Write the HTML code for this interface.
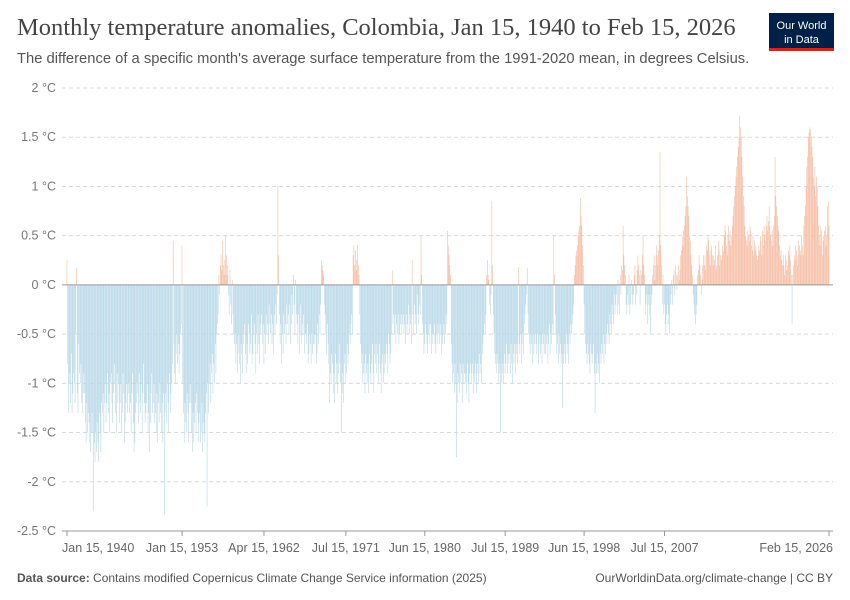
<!DOCTYPE html>
<html><head><meta charset="utf-8"><style>
body{margin:0;background:#fff;}
svg{display:block;font-family:"Liberation Sans",sans-serif;}
</style></head><body>
<svg id="chart" width="850" height="600" viewBox="0 0 850 600">
<text x="17" y="35" font-family="Liberation Serif,serif" font-size="24.5" fill="#444">Monthly temperature anomalies, Colombia, Jan 15, 1940 to Feb 15, 2026</text>
<text x="17" y="63" font-size="14.75" fill="#555">The difference of a specific month's average surface temperature from the 1991-2020 mean, in degrees Celsius.</text>
<g>
<rect x="769" y="13" width="65" height="37" fill="#002147"/>
<rect x="769" y="48" width="65" height="3" fill="#ce261e"/>
<text x="801.5" y="29" font-size="11" fill="#fff" text-anchor="middle">Our World</text>
<text x="801.5" y="43" font-size="11" fill="#fff" text-anchor="middle">in Data</text>
</g>
<g id="grid"></g>
<g id="bars"></g>
<g id="xaxis"></g>
<text x="17" y="582" font-size="12" fill="#555"><tspan font-weight="bold">Data source:</tspan> Contains modified Copernicus Climate Change Service information (2025)</text>
<text x="833" y="582" font-size="12" fill="#555" text-anchor="end">OurWorldinData.org/climate-change | CC BY</text>
</svg>
<script>
const startYear = 1940;
const yTicks = [2, 1.5, 1, 0.5, 0, -0.5, -1, -1.5, -2, -2.5];
const yTickLabels = ["2 °C","1.5 °C","1 °C","0.5 °C","0 °C","-0.5 °C","-1 °C","-1.5 °C","-2 °C","-2.5 °C"];
const xTickLabels = ["Jan 15, 1940","Jan 15, 1953","Apr 15, 1962","Jul 15, 1971","Jun 15, 1980","Jul 15, 1989","Jun 15, 1998","Jul 15, 2007","Feb 15, 2026"];
const xTickMonths = [0, 156, 267, 378, 485, 594, 701, 810, 1033];
const anomalies = [
.25,-.8,-1.3,-1.0,-.9,-1.2,-.7,-1.3,-1.1,-.9,-1.0,-1.2,
-.5,.17,-1.1,-1.3,-.6,-.9,-1.0,-.8,-1.2,-1.3,-1.1,-.9,
-1.1,-1.4,-1.6,-1.2,-1.5,-1.3,-1.4,-1.6,-1.7,-1.5,-1.3,-1.5,
-2.3,-1.6,-1.8,-1.5,-1.7,-1.4,-1.6,-1.8,-1.3,-1.5,-1.7,-1.2,
-1.3,-1.1,-1.5,-1.2,-1.0,-1.4,-1.2,-0.9,-1.3,-1.1,-1.5,-1.0,
-0.9,-1.2,-1.4,-1.1,-0.8,-1.0,-1.3,-1.5,-0.9,-1.2,-1.0,-1.4,
-1.2,-1.0,-1.5,-1.3,-0.9,-1.1,-1.6,-1.4,-1.2,-1.0,-1.3,-1.1,
-1.0,-1.3,-1.2,-1.5,-1.1,-0.9,-1.4,-1.7,-1.6,-1.3,-1.2,-1.0,
-1.1,-1.4,-0.9,-1.2,-1.3,-1.0,-1.5,-1.1,-0.8,-1.2,-1.4,-1.3,
-1.2,-1.0,-1.5,-1.3,-1.7,-1.4,-1.1,-0.9,-1.3,-1.2,-1.0,-1.4,
-1.3,-1.5,-1.1,-1.6,-1.2,-1.4,-1.0,-1.3,-1.5,-1.2,-1.6,-1.1,
-2.33,-1.3,-1.1,-1.4,-1.0,-1.2,-1.5,-0.9,-1.3,-1.1,-1.0,-0.8,
.45,-0.6,-0.9,-1.0,-0.7,-0.5,-0.8,-0.6,-0.9,-0.7,-0.5,-0.4,
.4,-1.0,-1.3,-1.6,-1.2,-1.4,-1.5,-1.1,-1.3,-1.6,-1.2,-1.0,
-1.2,-1.5,-1.7,-1.3,-1.6,-1.4,-1.2,-1.5,-1.1,-1.3,-1.6,-1.4,
-1.3,-1.6,-1.5,-1.2,-1.7,-1.4,-1.5,-1.6,-1.3,-1.1,-2.25,-1.0,
-1.3,-1.0,-0.8,-1.2,-0.9,-0.7,-1.1,-0.8,-1.0,-0.6,-0.9,-0.5,
-0.4,-0.3,.1,-0.1,.2,.3,.15,.45,.2,.1,.25,.5,
.3,.1,.2,-0.1,-0.3,.15,-0.2,-0.4,.05,-0.3,-0.5,-0.6,
-0.5,-0.8,-0.6,-0.9,-0.7,-0.5,-0.8,-1.0,-0.6,-0.7,-0.9,-0.6,
-0.5,-0.4,-0.7,-0.9,-0.6,-0.8,-0.4,-0.5,-0.7,-0.6,-0.3,-0.8,
-0.7,-0.5,-0.4,-0.6,-0.9,-0.5,-0.7,-0.3,-0.6,-0.8,-0.5,-0.4,
-0.3,-0.6,-0.4,-0.8,-0.5,-0.7,-0.3,-0.5,-0.4,-0.6,-0.2,-0.4,
-0.5,-0.3,-0.6,-0.4,-0.7,-0.3,-0.5,-0.2,-0.4,-0.1,1.0,.3,
-0.3,-0.6,-0.4,-0.8,-0.5,-0.7,-0.3,-0.5,-0.4,-0.6,-0.2,-0.4,
-0.3,-0.5,-0.2,-0.6,-0.4,-0.1,-0.3,.1,-0.2,-0.5,.05,-0.3,
-0.4,-0.6,-0.3,-0.7,-0.5,-0.2,-0.6,-0.4,-0.5,-0.3,-0.7,-0.5,
-0.5,-0.6,-0.4,-0.8,-0.7,-0.5,-0.6,-0.8,-0.5,-0.7,-0.6,-0.5,
-0.6,-0.5,-0.8,-0.7,-0.4,-0.6,-0.3,-0.5,-0.2,.25,.2,.15,
.1,-0.2,-0.3,-0.5,-0.7,-0.4,-0.6,-0.8,-1.2,-0.9,-1.0,-0.7,
-0.8,-1.1,-0.9,-1.2,-0.7,-1.0,-0.8,-1.1,-0.9,-0.6,-0.8,-1.0,
-1.5,-1.1,-0.9,-1.2,-0.8,-0.7,-1.0,-0.9,-0.6,-0.8,-0.7,-0.5,
-0.6,-0.4,-0.3,-0.5,.3,.4,.2,.35,.15,.25,.4,.2,
.1,-0.3,-0.6,-0.8,-0.7,-1.0,-0.9,-0.8,-1.1,-0.7,-0.9,-1.0,
-0.8,-1.1,-0.7,-0.9,-1.0,-0.8,-0.6,-0.9,-1.1,-0.7,-0.8,-0.6,
-0.9,-0.7,-1.0,-0.8,-0.6,-0.9,-1.1,-0.8,-0.7,-1.0,-0.9,-0.7,
-0.8,-0.6,-0.7,-0.9,-0.5,-0.6,-0.8,-0.7,-0.5,.15,-0.4,-0.3,
-0.5,-0.3,-0.6,-0.4,-0.5,-0.3,-0.6,-0.5,-0.4,-0.3,-0.5,-0.4,
-0.3,-0.5,-0.4,-0.6,-0.3,-0.5,-0.4,-0.2,-0.5,-0.3,-0.4,-0.6,
.25,-0.3,-0.5,-0.2,-0.4,-0.3,-0.5,-0.1,-0.3,-0.4,-0.2,-0.3,
.5,.1,-0.4,-0.5,-0.7,-0.6,-0.4,-0.5,-0.6,-0.7,-0.5,-0.4,
-0.6,-0.4,-0.7,-0.5,-0.6,-0.5,-0.4,-0.6,-0.7,-0.5,-0.6,-0.4,
-0.5,-0.6,-0.4,-0.5,-0.7,-0.6,-0.5,-0.4,-0.6,-0.5,-0.3,-0.4,
.55,.4,.3,.2,.1,-0.6,-0.8,-1.0,-0.9,-1.1,-0.8,-1.0,
-1.75,-1.2,-0.9,-1.0,-1.1,-0.8,-1.0,-0.9,-1.2,-0.8,-1.0,-0.9,
-1.0,-0.9,-1.1,-0.8,-1.0,-1.2,-0.9,-0.8,-1.0,-0.9,-0.8,-1.1,
-0.9,-1.0,-0.8,-1.1,-0.9,-0.8,-1.0,-0.7,-0.9,-0.8,-1.0,-0.7,
-0.6,-0.5,-0.4,-0.5,-0.3,.1,.25,.1,.05,-0.2,-0.3,-0.1,
.85,.2,-0.3,-0.5,-0.7,-0.8,-0.9,-0.7,-0.8,-1.0,-0.9,-0.8,
-1.5,-1.0,-0.9,-0.8,-1.0,-0.7,-0.9,-0.8,-0.6,-0.9,-0.7,-0.8,
-0.7,-0.9,-0.6,-0.8,-1.0,-0.7,-0.8,-0.6,-0.9,-0.7,-0.6,-0.8,
.18,-0.6,-0.7,-0.5,-0.8,-0.6,-0.5,-0.7,-0.4,-0.3,-0.2,-0.1,
.17,-0.3,-0.5,-0.6,-0.7,-0.5,-0.6,-0.8,-0.5,-0.7,-0.6,-0.5,
-0.6,-0.7,-0.5,-0.8,-0.6,-0.5,-0.7,-0.6,-0.8,-0.5,-0.6,-0.7,
-0.5,-0.7,-0.6,-0.5,-0.8,-0.6,-0.4,-0.7,-0.5,-0.6,-0.4,-0.5,
.5,.1,-0.3,-0.5,-0.7,-0.6,-0.8,-0.5,-0.7,-0.6,-0.8,-0.7,
-1.25,-0.8,-0.7,-0.6,-0.8,-0.5,-0.7,-0.6,-0.8,-0.5,-0.6,-0.4,
-0.5,-0.4,-0.3,-0.2,.1,.2,.3,.35,.4,.5,.55,.6,
.88,.7,.6,.4,.2,-0.2,-0.5,-0.6,-0.7,-0.8,-0.6,-0.7,
-0.8,-0.9,-0.6,-0.7,-0.8,-0.7,-0.6,-0.9,-1.3,-0.8,-0.9,-0.7,
-0.9,-0.8,-1.0,-0.7,-0.8,-0.6,-0.7,-0.5,-0.8,-0.6,-0.7,-0.5,
-0.6,-0.4,-0.5,-0.6,-0.3,-0.4,-0.5,-0.2,-0.3,-0.4,-0.1,-0.3,
-0.2,-0.1,-0.3,.05,-0.2,-0.3,.1,-0.1,.2,.15,.6,.3,
.2,.1,-0.2,-0.3,-0.1,-0.2,.1,-0.3,-0.2,.05,-0.1,-0.2,
-0.1,.1,.2,-0.2,-0.1,.15,.3,.2,.1,-0.2,.15,.1,
.3,.5,.2,.1,-0.3,-0.2,-0.1,-0.4,-0.2,-0.1,-0.3,-0.5,
-0.2,-0.1,.1,.2,.3,.05,.2,.4,.3,.2,.35,.5,
1.35,.4,.2,-0.2,.1,-0.3,-0.2,-0.4,-0.5,-0.3,-0.2,-0.4,
-0.3,-0.5,-0.2,-0.1,.05,-0.2,.1,.15,-0.1,.2,.1,-0.05,
.1,.2,.05,.15,.3,.35,.5,.4,.55,.6,.7,.8,
1.1,.9,.8,.7,.5,.45,.3,.2,.1,-0.1,-0.2,-0.3,
-0.4,-0.3,-0.2,.1,.15,.3,.2,.1,-0.1,.05,.2,.3,
.2,.3,.15,.4,.35,.5,.45,.3,.2,.35,.4,.3,
.2,.3,.25,.4,.15,.2,.3,.45,.35,.2,.3,.25,
.3,.4,.35,.5,.6,.55,.4,.3,.5,.6,.45,.55,
.4,.5,.6,.7,.8,.9,1.0,1.1,1.2,1.3,1.4,1.5,
1.72,1.6,1.5,1.3,1.1,.9,.8,.6,.5,.45,.4,.55,
.5,.45,.6,.55,.4,.35,.5,.3,.45,.35,.4,.3,
.25,.3,.4,.35,.5,.45,.3,.55,.4,.6,.5,.45,
.6,.7,.55,.65,.8,.6,.5,.45,.55,.4,.6,.7,
1.3,.9,.8,.7,.6,.55,.4,.3,.35,.25,.2,.3,
.2,.1,.3,.25,.15,.2,.35,.3,.4,.25,.1,-0.4,
.1,.2,.3,.25,.4,.35,.2,.3,.45,.4,.35,.3,
.5,.4,.3,.6,.7,.8,1.0,1.2,1.3,1.5,1.55,1.6,
1.58,1.5,1.4,1.3,1.1,1.0,1.2,.9,1.1,1.0,.8,.6,
.5,.4,.6,.55,.3,.45,.5,.55,.6,.4,.5,.8,
.85,.6
];
const NS = "http://www.w3.org/2000/svg";
const x0 = 67, x1 = 829, yTop = 88, yBot = 531, vMax = 2, vMin = -2.5;
const nMonths = 1034;
function xScale(i){ return x0 + (x1 - x0) * i / (nMonths - 1); }
function yScale(v){ return yTop + (vMax - v) / (vMax - vMin) * (yBot - yTop); }
function mk(tag, attrs){ const e = document.createElementNS(NS, tag); for (const k in attrs) e.setAttribute(k, attrs[k]); return e; }
const grid = document.getElementById('grid');
yTicks.forEach((v, i) => {
  const y = yScale(v);
  if (v !== 0 && v !== vMin) {
    const l = mk('line', {x1: 62, x2: 833, y1: y, y2: y, stroke: '#dadada', 'stroke-dasharray': '4,3'});
    
    
    grid.appendChild(l);
  }
  const t = mk('text', {x: 56, y: y + 4, 'font-size': 12.5, fill: '#777', 'text-anchor': 'end'});
  t.textContent = yTickLabels[i];
  
  
  grid.appendChild(t);
});
const bars = document.getElementById('bars');
const bw = (x1 - x0) / (nMonths - 1);
const y0 = yScale(0);
anomalies.forEach((v, i) => {
  const y = yScale(v);
  const r = mk('rect', {x: xScale(i) - bw / 2, y: Math.min(y, y0), width: bw * 0.85, height: Math.abs(y - y0), fill: v >= 0 ? '#f6bea5' : '#bad9e8'});
  
  
  bars.appendChild(r);
});
const zl = mk('line', {x1: 62, x2: 833, y1: y0, y2: y0, stroke: '#999', 'stroke-width': 1});


bars.appendChild(zl);
const xa = document.getElementById('xaxis');
const base = mk('line', {x1: 62, x2: 833, y1: yBot, y2: yBot, stroke: '#999'});


xa.appendChild(base);
xTickLabels.forEach((lab, i) => {
  const x = xScale(xTickMonths[i]);
  const tk = mk('line', {x1: x, x2: x, y1: yBot, y2: yBot + 5, stroke: '#999'});
  
  
  xa.appendChild(tk);
  const anchor = i === 0 ? 'start' : (i === xTickLabels.length - 1 ? 'end' : 'middle');
  const tx = i === 0 ? 62 : (i === xTickLabels.length - 1 ? 833 : x);
  const t = mk('text', {x: tx, y: 552, 'font-size': 12.5, fill: '#666', 'text-anchor': anchor});
  t.textContent = lab;
  
  
  xa.appendChild(t);
});
</script>
</body></html>
